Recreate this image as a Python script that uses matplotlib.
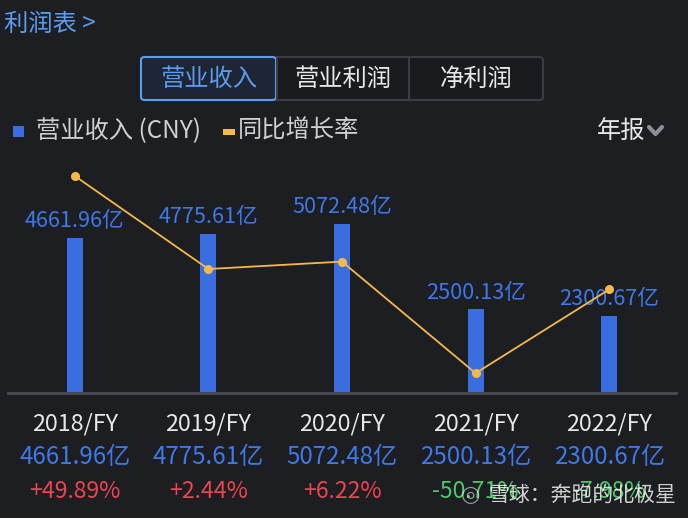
import matplotlib
matplotlib.use("Agg")
import matplotlib.pyplot as plt
from matplotlib.patches import FancyBboxPatch, Rectangle
from matplotlib.lines import Line2D
import matplotlib.transforms as mtrans

plt.rcParams['font.family'] = ['Noto Sans CJK SC', 'DejaVu Sans']

years = ["2018/FY", "2019/FY", "2020/FY", "2021/FY", "2022/FY"]
revenue = [4661.96, 4775.61, 5072.48, 2500.13, 2300.67]
growth = [49.89, 2.44, 6.22, -50.71, -7.98]
revenue_labels = ["4661.96亿", "4775.61亿", "5072.48亿", "2500.13亿", "2300.67亿"]
growth_labels = ["+49.89%", "+2.44%", "+6.22%", "-50.71%", "-7.98%"]
tabs = ["营业收入", "营业利润", "净利润"]

BG = "#1d1e22"
BLUE = "#3a6ee0"
BLUE_TXT = "#3f78e8"
ORANGE = "#f5b94a"
RED = "#ee4452"
GREEN = "#4fc86a"
WHITE = "#e8e8e8"

W, H = 688, 518
fig = plt.figure(figsize=(W / 100, H / 100), dpi=100, facecolor=BG)

def fx(x):
    return x / W

def fy(y):
    return 1 - y / H

# main axes: x 8..676, y 160..392
ax_left, ax_right, ax_top, ax_bot = 8, 676, 160, 392
ax = fig.add_axes([fx(ax_left), fy(ax_bot), (ax_right - ax_left) / W, (ax_bot - ax_top) / H])
ax.set_facecolor(BG)
ax.set_xlim(-0.5, 4.5)
ax.set_ylim(0, 7005)
for s in ax.spines.values():
    s.set_visible(False)
ax.set_xticks([])
ax.set_yticks([])

xs = list(range(len(years)))
ax.bar(xs, revenue, width=0.12, color=BLUE, zorder=2)
for x, v, lab in zip(xs, revenue, revenue_labels):
    ax.annotate(lab, (x, v), xytext=(0, 12), textcoords="offset points",
                ha="center", va="center", color=BLUE_TXT, fontsize=15.6, zorder=3)

ax2 = ax.twinx()
ax2.set_ylim(-60.3, 58.06)
ax2.set_xlim(-0.5, 4.5)
for s in ax2.spines.values():
    s.set_visible(False)
ax2.set_yticks([])
ax2.plot(xs, growth, color=ORANGE, lw=1.3, marker="o", ms=5.5, zorder=4)

# baseline
fig.add_artist(Line2D([fx(8), fx(676)], [fy(393), fy(393)], color="#4a4d56", lw=2))

# bottom table
tr = mtrans.blended_transform_factory(ax.transData, fig.transFigure)
for x, yl, rl, gl, g in zip(xs, years, revenue_labels, growth_labels, growth):
    fig.text(x, fy(424), yl, transform=tr, ha="center", va="center", color=WHITE,
             fontsize=16.8)
    fig.text(x, fy(457), rl, transform=tr, ha="center", va="center", color=BLUE_TXT,
             fontsize=17.4)
    fig.text(x, fy(492), gl, transform=tr, ha="center", va="center",
             color=RED if g >= 0 else GREEN, fontsize=16.6)

# title
fig.text(fx(4), fy(24), "利润表 >", color="#5b9cf0", fontsize=17.5, ha="left", va="center")

# tabs
outer = FancyBboxPatch((fx(141), fy(100)), fx(543) - fx(141), fy(57) - fy(100),
                       boxstyle="round,pad=0,rounding_size=0.006", transform=fig.transFigure,
                       facecolor="#1a1b1f", edgecolor="#3b3d44", lw=1.5)
fig.add_artist(outer)
for xd in [277, 409]:
    fig.add_artist(Line2D([fx(xd), fx(xd)], [fy(99), fy(58)], color="#3b3d44", lw=1.5))
sel = FancyBboxPatch((fx(141), fy(100)), fx(276) - fx(141), fy(57) - fy(100),
                     boxstyle="round,pad=0,rounding_size=0.006", transform=fig.transFigure,
                     facecolor="#1e2635", edgecolor="#5a9ef0", lw=1.5)
fig.add_artist(sel)
tab_centers = [208.5, 343, 476]
for i, (t, c) in enumerate(zip(tabs, tab_centers)):
    fig.text(fx(c), fy(78.5), t, color="#5b9cf0" if i == 0 else WHITE, fontsize=17.5,
             ha="center", va="center")

# legend
fig.add_artist(Rectangle((fx(12.5), fy(137)), fx(11.5), fy(126) - fy(137), transform=fig.transFigure,
                         facecolor=BLUE, edgecolor="none"))
fig.text(fx(36), fy(131), "营业收入 (CNY)", color="#d0d0d0", fontsize=17.5, ha="left", va="center")
fig.add_artist(Rectangle((fx(223), fy(135)), fx(12), fy(129.5) - fy(135), transform=fig.transFigure,
                         facecolor=ORANGE, edgecolor="none"))
fig.text(fx(238), fy(131), "同比增长率", color="#d0d0d0", fontsize=17.5, ha="left", va="center")
fig.text(fx(597), fy(131), "年报", color=WHITE, fontsize=17.5, ha="left", va="center")
fig.add_artist(Line2D([fx(649), fx(655.5), fx(662)], [fy(127), fy(134), fy(127)],
                      color="#8e9096", lw=3, solid_capstyle="round", solid_joinstyle="round"))

# watermark
fig.text(fx(470), fy(495), "◎", color="white", alpha=0.55, fontsize=16, ha="center", va="center",
         family=["DejaVu Sans"])
fig.text(fx(488), fy(495), "雪球：奔跑的北极星", color="white", alpha=0.8, fontsize=15,
         ha="left", va="center")

fig.savefig("out.png", dpi=100, facecolor=BG)
